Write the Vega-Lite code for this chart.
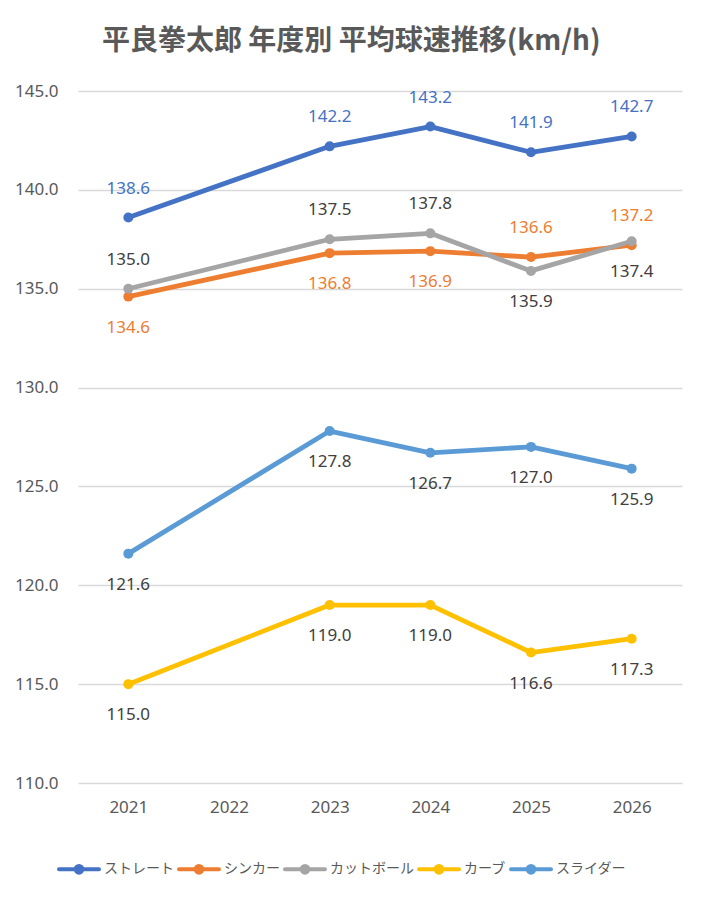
{
  "$schema": "https://vega.github.io/schema/vega-lite/v6.json",
  "width": 604,
  "height": 692,
  "autosize": {"type": "none"},
  "padding": {"left": 78, "top": 91, "right": 23, "bottom": 120},
  "background": "#FFFFFF",
  "title": {
    "text": "平良拳太郎 年度別 平均球速推移(km/h)",
    "font": "Noto Sans CJK JP",
    "fontSize": 28,
    "fontWeight": "bold",
    "color": "#595959",
    "anchor": "middle",
    "frame": "bounds",
    "baseline": "bottom",
    "dx": 3,
    "offset": -2
  },
  "data": {
    "values": [
      {"year": "2021", "series": "ストレート", "speed": 138.6},
      {"year": "2023", "series": "ストレート", "speed": 142.2},
      {"year": "2024", "series": "ストレート", "speed": 143.2},
      {"year": "2025", "series": "ストレート", "speed": 141.9},
      {"year": "2026", "series": "ストレート", "speed": 142.7},
      {"year": "2021", "series": "シンカー", "speed": 134.6},
      {"year": "2023", "series": "シンカー", "speed": 136.8},
      {"year": "2024", "series": "シンカー", "speed": 136.9},
      {"year": "2025", "series": "シンカー", "speed": 136.6},
      {"year": "2026", "series": "シンカー", "speed": 137.2},
      {"year": "2021", "series": "カットボール", "speed": 135.0},
      {"year": "2023", "series": "カットボール", "speed": 137.5},
      {"year": "2024", "series": "カットボール", "speed": 137.8},
      {"year": "2025", "series": "カットボール", "speed": 135.9},
      {"year": "2026", "series": "カットボール", "speed": 137.4},
      {"year": "2021", "series": "カーブ", "speed": 115.0},
      {"year": "2023", "series": "カーブ", "speed": 119.0},
      {"year": "2024", "series": "カーブ", "speed": 119.0},
      {"year": "2025", "series": "カーブ", "speed": 116.6},
      {"year": "2026", "series": "カーブ", "speed": 117.3},
      {"year": "2021", "series": "スライダー", "speed": 121.6},
      {"year": "2023", "series": "スライダー", "speed": 127.8},
      {"year": "2024", "series": "スライダー", "speed": 126.7},
      {"year": "2025", "series": "スライダー", "speed": 127.0},
      {"year": "2026", "series": "スライダー", "speed": 125.9}
    ]
  },
  "encoding": {
    "x": {
      "field": "year",
      "type": "ordinal",
      "scale": {"type": "point", "padding": 0.5, "domain": ["2021", "2022", "2023", "2024", "2025", "2026"]},
      "axis": {
        "title": null,
        "labelAngle": 0,
        "domain": false,
        "ticks": false,
        "tickSize": 0,
        "labelPadding": 16,
        "labelFontSize": 17,
        "labelFont": "Noto Sans",
        "labelColor": "#595959",
        "grid": false
      }
    },
    "y": {
      "field": "speed",
      "type": "quantitative",
      "scale": {"domain": [110, 145], "nice": false, "zero": false},
      "axis": {
        "title": null,
        "values": [110, 115, 120, 125, 130, 135, 140, 145],
        "format": ".1f",
        "domain": false,
        "ticks": false,
        "tickSize": 0,
        "labelPadding": 20,
        "labelFontSize": 17,
        "labelFont": "Noto Sans",
        "labelColor": "#595959",
        "gridColor": "#D9D9D9",
        "gridWidth": 1.5
      }
    }
  },
  "layer": [
    {
      "mark": {
        "type": "line",
        "strokeWidth": 4.8,
        "strokeCap": "round",
        "strokeJoin": "round",
        "point": {"filled": true, "size": 100, "opacity": 1}
      },
      "encoding": {
        "color": {
          "field": "series",
          "type": "nominal",
          "scale": {
            "domain": ["ストレート", "シンカー", "カットボール", "カーブ", "スライダー"],
            "range": ["#4472C4", "#ED7D31", "#A5A5A5", "#FFC000", "#5B9BD5"]
          },
          "legend": {
            "title": null,
            "orient": "none",
            "direction": "horizontal",
            "legendX": -21,
            "legendY": 756,
            "symbolType": "M-1,0L1,0M0.17,0A0.17,0.17,0,1,1,-0.17,0A0.17,0.17,0,1,1,0.17,0Z",
            "symbolSize": 1600,
            "symbolStrokeWidth": 4,
            "labelOffset": 3,
            "columnPadding": -3,
            "labelFontSize": 14,
            "labelFont": "Noto Sans CJK JP",
            "labelColor": "#595959",
            "encode": {
              "symbols": {
                "update": {
                  "fill": {"scale": "color", "field": "value"},
                  "stroke": {"scale": "color", "field": "value"},
                  "strokeCap": {"value": "round"},
                  "opacity": {"value": 1}
                }
              }
            }
          }
        },
        "order": {"field": "year"}
      }
    },
    {
      "transform": [
        {"filter": "datum.series == 'ストレート' || (datum.series == 'シンカー' && datum.year >= '2025') || (datum.series == 'カットボール' && datum.year < '2025')"}
      ],
      "mark": {"type": "text", "baseline": "middle", "dy": -29, "fontSize": 17, "font": "Noto Sans"},
      "encoding": {
        "text": {"field": "speed", "type": "quantitative", "format": ".1f"},
        "color": {
          "condition": [
            {"test": "datum.series == 'ストレート'", "value": "#4472C4"},
            {"test": "datum.series == 'シンカー'", "value": "#ED7D31"}
          ],
          "value": "#404040"
        }
      }
    },
    {
      "transform": [
        {"filter": "!(datum.series == 'ストレート' || (datum.series == 'シンカー' && datum.year >= '2025') || (datum.series == 'カットボール' && datum.year < '2025'))"}
      ],
      "mark": {"type": "text", "baseline": "middle", "dy": 31, "fontSize": 17, "font": "Noto Sans"},
      "encoding": {
        "text": {"field": "speed", "type": "quantitative", "format": ".1f"},
        "color": {
          "condition": [
            {"test": "datum.series == 'ストレート'", "value": "#4472C4"},
            {"test": "datum.series == 'シンカー'", "value": "#ED7D31"}
          ],
          "value": "#404040"
        }
      }
    }
  ],
  "config": {
    "view": {"stroke": null}
  }
}
